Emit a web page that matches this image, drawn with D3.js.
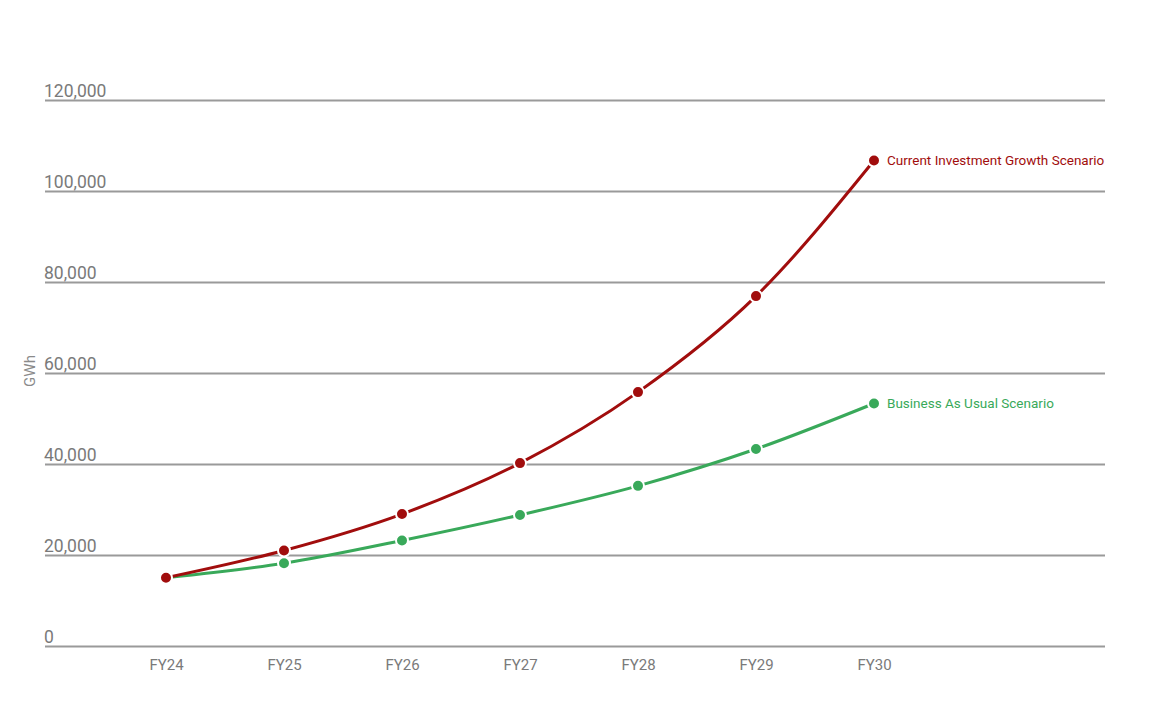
<!DOCTYPE html>
<html>
<head>
<meta charset="utf-8">
<script src="https://cdn.jsdelivr.net/npm/d3@7"></script>
<style>
  body { margin: 0; background: #fff; }
  svg text { font-family: Roboto, "Noto Sans", sans-serif; }
</style>
</head>
<body>
<div id="app"></div>
<script>
const width = 1170,
  height = 706;

// data
const years = ["FY24", "FY25", "FY26", "FY27", "FY28", "FY29", "FY30"];
const investment = [15000, 21000, 29000, 40200, 55800, 76900, 106700];
const businessAsUsual = [15000, 18200, 23200, 28800, 35200, 43300, 53300];
const yTicks = [0, 20000, 40000, 60000, 80000, 100000, 120000];

const seriesNames = ["Current Investment Growth Scenario", "Business As Usual Scenario"];
const seriesColors = ["#a10d0d", "#39a95a"];

const x = d3.scalePoint().domain(years).range([166, 874]);
const y = d3.scaleLinear().domain([0, 120000]).range([646, 100]);

const svg = d3
  .select("#app")
  .append("svg")
  .attr("width", width)
  .attr("height", height);

// gridlines + tick labels
const yAxis = svg
  .append("g")
  .attr("transform", "translate(45,0)")
  .call(
    d3.axisRight(y)
      .tickValues(yTicks)
      .tickSize(1060)
      .tickFormat(d3.format(","))
  );
yAxis.select(".domain").remove();
yAxis.selectAll(".tick line").attr("stroke", "#9a9a9a").attr("stroke-width", 2);
yAxis
  .selectAll(".tick text")
  .attr("x", -1)
  .attr("dy", -4)
  .attr("text-anchor", "start")
  .attr("fill", "#7a7a7a")
  .style("font-size", "17.5px");

// x labels
const xAxis = svg
  .append("g")
  .attr("transform", "translate(0,646)")
  .call(d3.axisBottom(x).tickSize(0).tickPadding(13));
xAxis.select(".domain").remove();
xAxis.selectAll(".tick text").attr("fill", "#7a7a7a").style("font-size", "15px");

// axis title
svg
  .append("text")
  .attr("transform", "translate(35,371) rotate(-90)")
  .attr("text-anchor", "middle")
  .attr("fill", "#8a8a8a")
  .style("font-size", "15px")
  .text("GWh");

const line = d3
  .line()
  .x((d, i) => x(years[i]))
  .y((d) => y(d))
  .curve(d3.curveMonotoneX);

const allSeries = [investment, businessAsUsual];

// draw green under red
[1, 0].forEach(function (s) {
  const vals = allSeries[s];
  const g = svg.append("g");
  g.append("path")
    .datum(vals)
    .attr("fill", "none")
    .attr("stroke", seriesColors[s])
    .attr("stroke-width", 3)
    .attr("d", line);

  g.selectAll("circle")
    .data(vals)
    .join("circle")
    .attr("cx", (d, i) => x(years[i]))
    .attr("cy", (d) => y(d))
    .attr("r", 6)
    .attr("fill", seriesColors[s])
    .attr("stroke", "#fff")
    .attr("stroke-width", 2);

  g.append("text")
    .attr("x", x(years[years.length - 1]) + 13)
    .attr("y", y(vals[vals.length - 1]))
    .attr("dy", "0.35em")
    .attr("fill", seriesColors[s])
    .style("font-size", "13.5px")
    .text(seriesNames[s]);
});
</script>
</body>
</html>
